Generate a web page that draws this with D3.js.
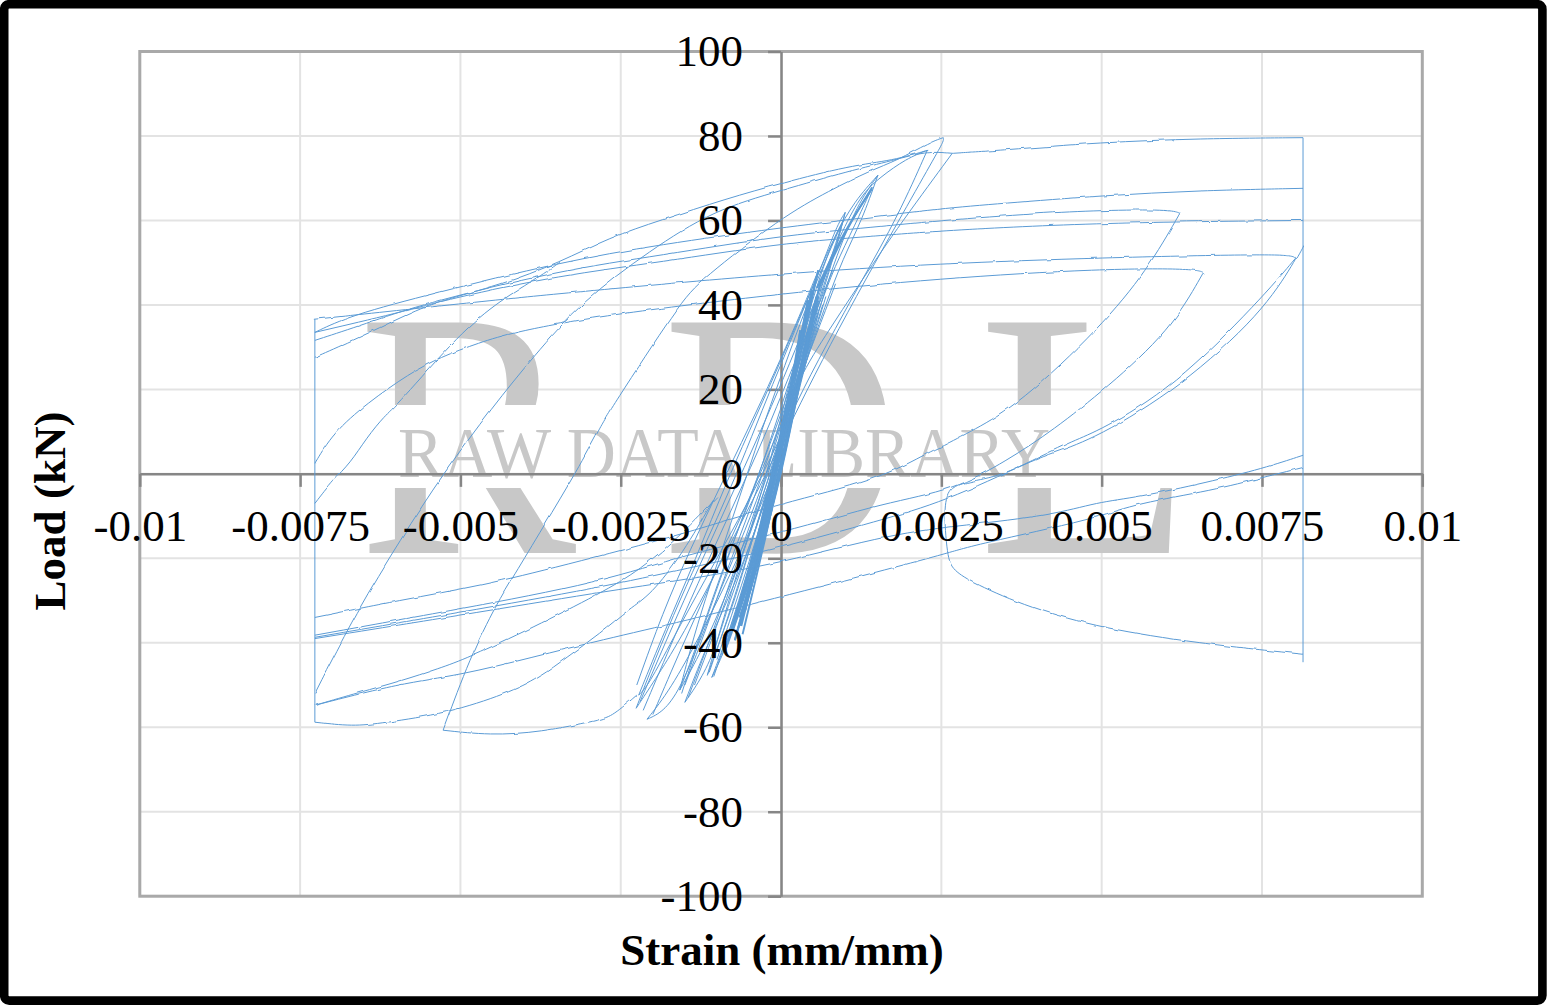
<!DOCTYPE html>
<html>
<head>
<meta charset="utf-8">
<title>Load-strain hysteresis</title>
<script src="https://cdn.jsdelivr.net/npm/d3@7/dist/d3.min.js"></script>
<style>
  html, body { margin: 0; padding: 0; background: #fff; }
  svg { display: block; }
  text { font-family: "Liberation Serif", serif; }
</style>
</head>
<body>
<svg id="chart" width="1547" height="1005"></svg>
<script>
// Tick values and their printed labels
const strainTicks = [-0.01, -0.0075, -0.005, -0.0025, 0, 0.0025, 0.005, 0.0075, 0.01];
const strainLabels = ["-0.01", "-0.0075", "-0.005", "-0.0025", "0", "0.0025", "0.005", "0.0075", "0.01"];
const loadTicks = [-100, -80, -60, -40, -20, 0, 20, 40, 60, 80, 100];

// Every branch is a list of [strain x 10^3, load in kN]
// Actuator limits, where the strain gauge stops moving
const leftLimit = [[-7.27, 36.6], [-7.27, -58.8]];
const rightLimit = [[8.14, 79.6], [8.14, -44.6]];

// Large cycles: tension side
const tensionTop = [[2.67, 75.9], [3.42, 76.6], [4.98, 78.5], [6.54, 79.4], [8.14, 79.6]];
const reloadToTop = [[-7.27, -52], [-6.61, -32.3], [-5.94, -15.7], [-5.27, 0.1], [-4.49, 16], [-3.87, 27.6], [-3.09, 41.1], [-2.04, 52.9], [-1.06, 62.4], [0, 67.1], [1.08, 71.8], [1.75, 74.2], [2.25, 76.4], [2.67, 75.9]];
const reloadToPeak = [[-5.27, -60.7], [-4.85, -43.4], [-4.43, -30.6], [-4.18, -24.5], [-3.71, -12.6], [-3.18, 0.8], [-2.82, 11], [-2.67, 15], [-1.58, 40.4], [-1.26, 45.8], [0, 60.7], [0.76, 67.1], [1.39, 71.8], [1.81, 74.2], [2.32, 78.5], [2.53, 79.6]];
const unloadUpperA = [[2.28, 76.6], [1.75, 74.2], [1.08, 73], [0, 68.8], [-0.84, 65.2], [-1.89, 60], [-2.67, 56], [-3.45, 50.1], [-4.38, 44.6], [-5.32, 41.1], [-5.94, 37], [-6.57, 32.3], [-7.27, 27.6]];
const reloadUpperB = [[-7.27, -7], [-6.99, -1.5], [-6.72, 2.5], [-6.46, 8.6], [-6.18, 13.8], [-5.99, 16.2], [-5.01, 33.3], [-4.38, 41.1], [-3.76, 46.7], [-3.45, 50.1]];
const unloadFrom67 = [[8.14, 67.6], [6.54, 67.1], [5.02, 65.9], [3.42, 64], [2.48, 62.8], [1.23, 60.5], [0, 58.3], [-1.89, 54.3], [-3.45, 50.1], [-5.43, 42.7], [-6.72, 37.5], [-7.27, 33.5]];
const unloadFrom62 = [[6.22, 61.7], [6.07, 62.6], [4.98, 62.4], [4.04, 61.7], [2.48, 60], [1.23, 58.1], [0, 56.4], [-1.89, 51.7], [-3.45, 48.2], [-5.68, 39.9], [-6.46, 35.6], [-7.27, 31.6]];
const unloadFrom60 = [[8.14, 60], [4.98, 59.5], [2.48, 57.6], [1.23, 56], [0, 54.6], [-1.89, 50.1], [-3.45, 47], [-5.16, 41.5], [-5.94, 38.2], [-7.27, 33.5]];
const unloadFrom52 = [[8.02, 51], [7.99, 51.7], [7.5, 52], [5.02, 51.2], [2.48, 49.8], [0, 47.5], [-3.45, 42.7], [-4.49, 41.1], [-7.27, 36.6]];
const unloadFrom48 = [[6.6, 47.5], [6.49, 48.6], [5.02, 48.6], [2.48, 46.3], [0, 42.7], [-2.82, 37.5], [-4.18, 33.5], [-4.7, 31.1], [-5.32, 27.6], [-5.79, 23.8], [-6.46, 16.7], [-6.99, 9.6], [-7.27, 2.5]];

// Large cycles: compression side and reloading
const reloadTo62 = [[-7.27, -34], [-5.94, -29.9], [-4.65, -26.4], [-3.45, -21.9], [-1.47, -14.1], [-0.02, -7], [1.5, -1.5], [2.28, 4.9], [2.48, 6.3], [3, 10.3], [3.73, 16.7], [4.98, 34.7], [5.71, 48.2], [6.22, 61.7]];
const reloadTo48 = [[-7.27, -38.2], [-5.01, -32], [-2.82, -25.7], [-1.47, -19], [-0.02, -14.1], [1.65, -6.7], [2.68, -3.9], [3.53, 3.2], [4.24, 10.3], [5.09, 20.5], [6.07, 34], [6.58, 47.5]];
const reloadTo51 = [[-7.27, -38.7], [-5.01, -32.8], [-2.82, -26.9], [-1.47, -22.4], [-0.02, -17.6], [1.54, -11], [2.53, -6.7], [3.93, 3.2], [4.56, 7.9], [4.98, 10.3], [6.12, 20.5], [7.47, 41.1], [8.02, 51]];
const reloadToEdgeHigh = [[-7.27, -39], [-5.01, -33.5], [-2.82, -28], [-1.47, -25], [-0.02, -21.2], [1.75, -14.1], [2.84, -12.2], [4.23, -9.8], [4.93, -6.7], [5.55, -5.6], [6.65, -2], [7.52, 1.3], [8.14, 4.4]];
const reloadToEdgeLow = [[-7.27, -54.8], [-5.94, -49.6], [-5.01, -47.7], [-3.87, -43.4], [-2.82, -39.4], [-1.47, -34.7], [-0.02, -29.2], [2.32, -20], [2.84, -17.6], [3.37, -15.7], [4.2, -12.9], [4.93, -10.3], [5.55, -7], [6.74, -3.9], [7.52, -0.8], [8.14, 1.5]];
const reloadShort = [[-7.27, -54.8], [-6.57, -51.7], [-5.94, -49.1], [-5.32, -46], [-4.9, -43.7], [-3.87, -36.4], [-2.82, -28.3], [-2.2, -22.8], [-1.53, -14.1], [-1, -5.6]];
const compressionFloor = [[-7.27, -58.8], [-6.68, -59.8], [-6.21, -59], [-5.21, -56.7], [-4.27, -52], [-3.76, -48.2], [-3.34, -43.4], [-2.82, -37.8], [-2.36, -31.8], [-2.04, -28.8], [-1.53, -18.8], [-1.06, -6.3]];
const compressionPeak = [[-5.27, -60.7], [-4.54, -61.9], [-3.76, -61.2], [-2.82, -58.3], [-2.62, -57.2], [-2.25, -52.4]];
const firstTail = [[8.14, -42.7], [6.49, -40.1], [5.02, -36.6], [3.88, -31.8], [3, -25.9], [2.68, -22.8], [2.59, -19.8], [2.53, -7], [2.64, -3.4], [2.84, -2], [3.37, -0.8], [3.93, 3.2], [4.24, 4.9], [4.93, 8.6], [6.22, 20.5], [7.5, 38], [8.02, 50.6], [8.14, 54.1]];

// Small cycles around the origin, outermost first
const outerCycles = [
  [[2.53, 79.6], [2.54, 78.9], [2.43, 75.9], [1.9, 61.7], [1.31, 45.8], [0.76, 30.4], [0.3, 16.7], [-0.09, 4.4], [-0.56, -9.8], [-1.08, -25.2], [-1.58, -39.4], [-1.97, -48.9], [-2.26, -55.5]],
  [[2.28, 76.6], [1.83, 61.2], [1.26, 45.8], [0.7, 30.4], [0.23, 16.7], [-0.17, 3.2], [-0.67, -11], [-1.19, -25.2], [-1.7, -39.4], [-2.07, -50.1], [-2.22, -52.4]],
  [[2.67, 75.9], [1.75, 56.9], [1.23, 45.1], [0.69, 32.8], [0.19, 20.5], [0.06, 10.3], [-0.09, 0.8], [-0.48, -13.4], [-0.87, -26.4], [-1.26, -38.2], [-1.73, -51.2], [-2.09, -58.1]],
  [[-2.22, -52.4], [-1.81, -37], [-1.34, -20.5], [-0.83, -1.1], [-0.37, 14.3], [-0.02, 26.2], [0.3, 37.5], [0.61, 48.2], [0.87, 58.8], [1, 61.9]],
  [[-2.09, -58.1], [-1.84, -56.4], [-1.58, -51.2], [-1.26, -39.4], [-0.95, -27.6], [-0.56, -13.4], [-0.2, 0.8], [0.11, 17.4], [0.37, 31.6], [0.61, 45.8], [0.92, 56.3], [1.23, 65.8], [1.54, 70.2], [1.96, 74.7], [2.28, 76.6]],
  [[-2.26, -55.5], [-1.97, -44.1], [-1.58, -29.9], [-1.19, -16.9], [-0.8, -3.9], [-0.45, 9.1], [-0.14, 20.9], [0.22, 34], [0.53, 45.8], [0.84, 56.4], [1.15, 64.7], [1.51, 70.7]],
  [[1.51, 70.7], [1.26, 60], [0.97, 51.2], [0.69, 39.9], [0.37, 25.7], [0.14, 13.8], [-0.14, -1.5], [-0.45, -15.7], [-0.83, -29.9], [-1.19, -41.8], [-1.5, -54.1]],
  [[1.42, 67.8], [1.15, 58.8], [0.84, 49.3], [0.58, 38.7], [0.33, 26.9], [0.06, 12.7], [-0.2, -1.5], [-0.51, -15.7], [-0.89, -29.9], [-1.23, -41.8], [-1.58, -51.2]],
  [[-1.5, -54.1], [-1.26, -48.9], [-1.03, -41.8], [-0.8, -29.9], [-0.51, -18.1], [-0.25, -6.3], [0.02, 7.9], [0.3, 22.1], [0.58, 38.7], [0.92, 54.1], [1.23, 64.7], [1.51, 70.7]],
  [[-1.58, -51.2], [-1.34, -41.8], [-1.08, -29.9], [-0.8, -18.1], [-0.48, -6.3], [-0.17, 7.9], [0.14, 22.1], [0.42, 36.3], [0.69, 48.2], [1, 57.6], [1.42, 67.8]],
  [[-1.58, -51.2], [-1.42, -41.8], [-1.19, -29.9], [-0.87, -15.7], [-0.56, -1.5], [-0.25, 12.7], [0.06, 25.7], [0.37, 38.7], [0.69, 50.5], [0.97, 60]],
  [[0.97, 60], [0.69, 47], [0.42, 34], [0.22, 22.1], [0.02, 10.3], [-0.17, -1.5], [-0.41, -13.4], [-0.67, -27.6], [-0.95, -39.4], [-1.15, -47.7]],
  [[1, 61.9], [0.8, 50.5], [0.53, 38.7], [0.3, 25.7], [0.09, 12.7], [-0.09, 0.8], [-0.33, -13.4], [-0.59, -27.6], [-0.86, -39.4], [-1.08, -48.2]],
  [[-1.08, -48.2], [-0.87, -41.8], [-0.64, -29.9], [-0.41, -16.9], [-0.2, -5.1], [-0.02, 6.7], [0.22, 20.9], [0.45, 34], [0.69, 44.6], [0.89, 55.3], [1, 61.9]],
  [[-1.15, -47.7], [-0.95, -37], [-0.72, -25.2], [-0.48, -13.4], [-0.25, -1.5], [-0.05, 10.3], [0.14, 22.1], [0.37, 35.1], [0.61, 47], [0.84, 56.4], [0.97, 60]],
  [[-2.2, -54], [-1.75, -38], [-1.28, -22], [-0.8, -6], [-0.35, 9], [0.05, 23], [0.4, 36], [0.72, 48]],
  [[-2.15, -56], [-1.65, -38], [-1.18, -22], [-0.7, -6], [-0.25, 9], [0.12, 23], [0.48, 36], [0.8, 48]],
  [[-2, -57], [-1.55, -41], [-1.1, -26], [-0.62, -10], [-0.18, 5], [0.2, 19], [0.55, 33], [0.85, 45]],
  [[-2.25, -50], [-1.85, -33], [-1.42, -18], [-0.95, -3], [-0.5, 11], [-0.1, 24], [0.25, 36], [0.55, 47]],
  [[-1.55, -52], [-1.25, -38], [-0.95, -25], [-0.62, -11], [-0.3, 2], [0, 14], [0.28, 27], [0.5, 38]],
  [[-1.5, -50], [-1.15, -36], [-0.85, -23], [-0.52, -10], [-0.22, 3], [0.07, 16], [0.34, 29], [0.6, 41]],
  [[-1.45, -53], [-1.1, -39], [-0.78, -25], [-0.46, -11], [-0.16, 2], [0.12, 15], [0.4, 28], [0.65, 40]],
  [[-1.35, -50], [-1, -36], [-0.7, -23], [-0.4, -10], [-0.1, 3], [0.18, 16], [0.44, 29], [0.7, 42]],
  [[-1.12, -47], [-0.85, -35], [-0.6, -23], [-0.35, -11], [-0.1, 1], [0.1, 13], [0.3, 25], [0.5, 37]],
  [[-1.05, -48], [-0.78, -36], [-0.54, -24], [-0.3, -12], [-0.06, 1], [0.14, 13], [0.34, 25], [0.54, 37]],
  [[-1, -44], [-0.74, -32], [-0.5, -21], [-0.26, -9], [-0.03, 3], [0.17, 15], [0.37, 27], [0.57, 39]],
  [[-0.92, -43], [-0.68, -32], [-0.45, -21], [-0.22, -9], [0, 3], [0.2, 15], [0.4, 27], [0.58, 38]]
];

// Repeated elastic cycles that pile up into the solid band at the origin
const denseCycles = [
  [[-0.64, -35.9], [-0.45, -25.2], [-0.28, -13.4], [-0.14, -3.9], [0.02, 10.3], [0.22, 24.5], [0.42, 38.7], [0.58, 48.2]],
  [[0.58, 48.2], [0.39, 35.1], [0.22, 22.1], [0.05, 10.3], [-0.08, 0.8], [-0.23, -11], [-0.45, -24], [-0.64, -35.9]],
  [[-0.72, -39.4], [-0.48, -26.4], [-0.33, -14.6], [-0.17, -3.9], [-0.02, 7.9], [0.14, 19.8], [0.33, 34], [0.48, 43.4]],
  [[0.48, 43.4], [0.3, 30.4], [0.14, 18.6], [-0.02, 6.7], [-0.14, -3.9], [-0.33, -16.9], [-0.56, -29.9], [-0.72, -39.4]],
  [[-0.87, -41.8], [-0.61, -28.8], [-0.39, -16.9], [-0.22, -5.1], [-0.06, 5.6], [0.11, 18.6], [0.3, 31.6], [0.42, 41.1]],
  [[0.42, 41.1], [0.25, 28], [0.11, 17.4], [-0.05, 5.6], [-0.2, -6.3], [-0.41, -19.3], [-0.64, -32.3], [-0.87, -41.8]],
  [[-0.56, -32.3], [-0.36, -20.5], [-0.17, -6.3], [-0.02, 6.7], [0.14, 18.6], [0.3, 31.6], [0.37, 36.3]],
  [[0.37, 36.3], [0.22, 24.5], [0.06, 12.7], [-0.09, 0.8], [-0.25, -12.2], [-0.45, -24], [-0.56, -32.3]],
  [[-0.48, -27.6], [-0.3, -15.7], [-0.14, -3.9], [0.02, 7.9], [0.14, 17.4], [0.3, 34]],
  [[0.3, 34], [0.17, 22.1], [0.02, 10.3], [-0.14, -1.5], [-0.3, -13.4], [-0.48, -27.6]],
  [[-0.8, -38], [-0.55, -27], [-0.34, -16], [-0.15, -5], [0.02, 6], [0.18, 17], [0.34, 28], [0.5, 39]],
  [[-0.75, -37], [-0.5, -26], [-0.3, -15], [-0.12, -5], [0.05, 6], [0.2, 17], [0.36, 28], [0.52, 39]],
  [[-0.7, -38], [-0.46, -27], [-0.26, -15], [-0.09, -4], [0.08, 7], [0.23, 18], [0.38, 29], [0.54, 40]],
  [[-0.65, -34], [-0.42, -24], [-0.23, -13], [-0.06, -3], [0.1, 8], [0.26, 20], [0.4, 30], [0.56, 41]],
  [[-0.6, -33], [-0.38, -22], [-0.2, -12], [-0.03, -1], [0.12, 9], [0.28, 21], [0.42, 31], [0.56, 41]],
  [[-0.55, -31], [-0.35, -21], [-0.17, -10], [0, 0], [0.15, 11], [0.3, 22], [0.44, 32], [0.58, 42]],
  [[0.55, 42], [0.4, 31], [0.26, 20], [0.1, 9], [-0.05, -1], [-0.22, -12], [-0.42, -24], [-0.62, -36]],
  [[0.62, 46], [0.45, 34], [0.3, 23], [0.14, 11], [-0.02, 1], [-0.18, -11], [-0.38, -24], [-0.6, -38]],
  [[0.56, 44], [0.78, 51], [1.05, 59], [1.42, 67.5]],
  [[0.6, 44.5], [0.82, 51.5], [1.08, 59.5], [1.42, 67.8]]
];

const largeBranches = [
  tensionTop, reloadToTop, reloadToPeak, unloadUpperA, reloadUpperB,
  unloadFrom67, unloadFrom62, unloadFrom60, unloadFrom52, unloadFrom48,
  reloadTo62, reloadTo48, reloadTo51, reloadToEdgeHigh, reloadToEdgeLow,
  reloadShort, compressionFloor, compressionPeak, firstTail
];

const svg = d3.select("#chart");
const x = d3.scaleLinear().domain([-0.01, 0.01]).range([139.8, 1422.3]);
const y = d3.scaleLinear().domain([-100, 100]).range([896.2, 51.5]);

const GRID = "#e3e3e3", AXIS = "#868686", FRAME = "#a9a9a9", LINE = "#5b9bd5", MARK = "#c8c8c8";

svg.append("rect").attr("width", 1547).attr("height", 1005).attr("fill", "#fff");

// Slight stroke roughness for the long sampled branches
const defs = svg.append("defs");
const rough = defs.append("filter").attr("id", "sampledStroke")
  .attr("x", "-2%").attr("y", "-2%").attr("width", "104%").attr("height", "104%");
rough.append("feTurbulence").attr("type", "fractalNoise").attr("baseFrequency", "0.09 0.03")
  .attr("numOctaves", 1).attr("seed", 4).attr("result", "noise");
rough.append("feDisplacementMap").attr("in", "SourceGraphic").attr("in2", "noise")
  .attr("scale", 3).attr("xChannelSelector", "R").attr("yChannelSelector", "G");

// Gridlines
const grid = svg.append("g").attr("stroke", GRID).attr("stroke-width", 2);
grid.selectAll("line.v").data(strainTicks).join("line")
  .attr("x1", d => x(d)).attr("x2", d => x(d)).attr("y1", y(100)).attr("y2", y(-100));
grid.selectAll("line.h").data(loadTicks).join("line")
  .attr("x1", x(-0.01)).attr("x2", x(0.01)).attr("y1", d => y(d)).attr("y2", d => y(d));

// Library watermark: large initials split by a white band carrying the name
defs.append("clipPath").attr("id", "initialsClip").selectAll("rect")
  .data([[300, 250, 1000, 155], [300, 488, 1000, 100]]).join("rect")
  .attr("x", d => d[0]).attr("y", d => d[1]).attr("width", d => d[2]).attr("height", d => d[3]);
const initials = svg.append("g").attr("clip-path", "url(#initialsClip)")
  .attr("fill", MARK).attr("font-size", 352);
initials.selectAll("text").data([["R", 358, 0.93], ["D", 662, 0.94], ["L", 978, 1]]).join("text")
  .attr("transform", d => `translate(${d[1]},553) scale(${d[2]},1)`).text(d => d[0]);
svg.append("text").attr("x", 398).attr("y", 477).attr("font-size", 71).attr("fill", MARK)
  .attr("textLength", 652).attr("lengthAdjust", "spacingAndGlyphs").text("RAW DATA LIBRARY");

// Plot frame
svg.append("rect").attr("x", x(-0.01)).attr("y", y(100))
  .attr("width", x(0.01) - x(-0.01)).attr("height", y(-100) - y(100))
  .attr("fill", "none").attr("stroke", FRAME).attr("stroke-width", 3);

// Axes crossing at the origin
const xAxis = d3.axisBottom(x).tickValues(strainTicks)
  .tickFormat((d, i) => strainLabels[i]).tickSizeInner(13).tickSizeOuter(0).tickPadding(22);
const yAxis = d3.axisLeft(y).tickValues(loadTicks)
  .tickFormat(d => String(d)).tickSizeInner(13).tickSizeOuter(0).tickPadding(25);

function styleAxisLines(g) {
  g.selectAll("path.domain").attr("stroke", AXIS).attr("stroke-width", 2.5);
  g.selectAll(".tick line").attr("stroke", AXIS).attr("stroke-width", 2.5);
  g.selectAll("text").remove();
}
function keepAxisText(g) {
  g.selectAll("path.domain").remove();
  g.selectAll(".tick line").remove();
  g.attr("font-size", 45).attr("font-family", null);
  g.selectAll("text").attr("fill", "#000");
}
svg.append("g").attr("transform", `translate(0,${y(0)})`).call(xAxis).call(styleAxisLines);
svg.append("g").attr("transform", `translate(${x(0)},0)`).call(yAxis).call(styleAxisLines);

// Measured branches
const toPoint = d => [x(d[0] / 1000), y(d[1])];
const smooth = d3.line().curve(d3.curveBasis);
const straight = d3.line();
const curves = svg.append("g").attr("fill", "none").attr("stroke", LINE).attr("stroke-width", 1);
curves.selectAll("path.edge").data([leftLimit, rightLimit]).join("path")
  .attr("d", d => straight(d.map(toPoint)));
curves.append("g").attr("filter", "url(#sampledStroke)").selectAll("path").data(largeBranches).join("path")
  .attr("d", d => smooth(d.map(toPoint)));
curves.append("g").selectAll("path").data(outerCycles).join("path")
  .attr("d", d => smooth(d.map(toPoint)));
curves.append("g").attr("stroke-width", 1.9).selectAll("path").data(denseCycles).join("path")
  .attr("d", d => smooth(d.map(toPoint)));

// Tick labels sit over the curves
svg.append("g").attr("transform", `translate(0,${y(0)})`).call(xAxis).call(keepAxisText);
svg.append("g").attr("transform", `translate(${x(0)},0)`).call(yAxis).call(keepAxisText);

// Axis titles
svg.append("text").attr("x", 782).attr("y", 965).attr("text-anchor", "middle")
  .attr("font-size", 45).attr("font-weight", "bold").text("Strain (mm/mm)");
svg.append("text").attr("transform", "translate(65,511) rotate(-90)").attr("text-anchor", "middle")
  .attr("font-size", 45).attr("font-weight", "bold").text("Load (kN)");

// Outer black border
svg.append("rect").attr("x", 4.2).attr("y", 4.2).attr("width", 1538.2).attr("height", 996.4).attr("rx", 5)
  .attr("fill", "none").attr("stroke", "#000").attr("stroke-width", 8.6);
</script>
</body>
</html>
